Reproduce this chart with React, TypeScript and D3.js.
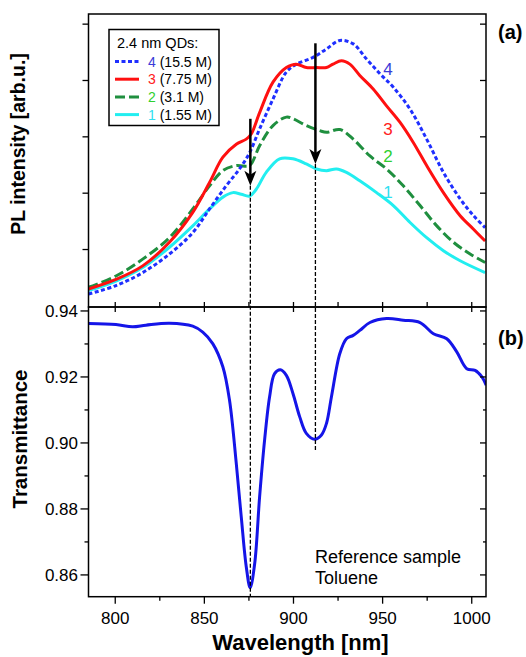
import React from "react";
import * as d3 from "d3";

// ---- data ----
const wl4 = [785.0, 800.4, 815.4, 830.4, 843.5, 852.9, 862.2, 869.7, 875.4, 881, 888.5, 896, 901.6, 911, 918.5, 926, 933.5, 941, 948.5, 956, 965.4, 974.7, 984.1, 993.5, 1001, 1007.5];
const pl4 = [0.21, 0.36, 0.59, 0.92, 1.3, 1.72, 2.13, 2.43, 2.72, 3.14, 3.67, 4.15, 4.29, 4.41, 4.56, 4.71, 4.65, 4.38, 4.12, 3.88, 3.49, 2.96, 2.37, 1.9, 1.6, 1.39];

const wl3 = [785.0, 800.4, 815.4, 830.4, 843.5, 852.9, 860.4, 867.9, 873.5, 876.3, 881, 888.5, 896, 901.6, 907.2, 912.9, 918.5, 922.2, 926.9, 931.6, 937.2, 944.7, 952.2, 959.7, 967.2, 974.7, 984.1, 993.5, 1001, 1007.5];
const pl3 = [0.3, 0.47, 0.71, 1.13, 1.66, 2.19, 2.64, 2.87, 2.96, 3.05, 3.43, 3.97, 4.23, 4.29, 4.23, 4.23, 4.23, 4.29, 4.35, 4.29, 4.09, 3.85, 3.55, 3.26, 2.9, 2.49, 2.01, 1.6, 1.36, 1.15];

const wl2 = [785.0, 800.4, 815.4, 830.4, 843.5, 852.9, 860.4, 867.9, 874.4, 876.3, 881, 888.5, 896, 899.7, 907.2, 914.7, 918.5, 926, 933.5, 942.9, 952.2, 961.6, 971, 980.4, 989.7, 999.1, 1007.5];
const pl2 = [0.33, 0.53, 0.83, 1.21, 1.72, 2.13, 2.4, 2.49, 2.48, 2.52, 2.84, 3.2, 3.35, 3.32, 3.2, 3.11, 3.08, 3.13, 2.96, 2.66, 2.43, 2.13, 1.78, 1.42, 1.13, 0.92, 0.77];

const wl1 = [785.0, 800.4, 815.4, 830.4, 843.5, 852.9, 860.4, 866, 870.7, 875.4, 879.1, 884.7, 892.2, 899.7, 907.2, 912.9, 918.5, 924.1, 929.7, 937.2, 946.6, 956, 965.4, 974.7, 984.1, 993.5, 1007.5];
const pl1 = [0.27, 0.44, 0.68, 1.04, 1.42, 1.72, 1.93, 2.01, 1.98, 1.95, 2.07, 2.37, 2.61, 2.61, 2.52, 2.43, 2.4, 2.43, 2.37, 2.22, 2.01, 1.78, 1.48, 1.21, 0.98, 0.8, 0.59];

const wlT = [785, 800.4, 809.7, 817.2, 830.4, 843.5, 849.1, 854.7, 860.4, 864.1, 867.9, 870.7, 873.5, 875.7, 878.2, 881, 883.8, 886.6, 889.4, 892.6, 896, 899.7, 903.5, 907.2, 911.9, 915.7, 918.5, 921.3, 926, 929.7, 933.5, 937.2, 942.9, 952.2, 961.6, 971, 978.5, 986, 991.6, 997.2, 1001.9, 1005.7, 1008.1];
const trans = [0.9362, 0.9359, 0.9352, 0.9357, 0.9363, 0.9354, 0.9336, 0.9301, 0.923, 0.913, 0.8938, 0.8776, 0.8625, 0.8561, 0.8633, 0.8837, 0.9009, 0.914, 0.921, 0.9222, 0.9205, 0.915, 0.9079, 0.9029, 0.9011, 0.9024, 0.9059, 0.914, 0.9271, 0.9316, 0.9326, 0.9341, 0.9365, 0.9377, 0.9372, 0.9365, 0.9331, 0.9316, 0.9276, 0.9225, 0.922, 0.92, 0.9175];

const seriesIds = ["4", "3", "2", "1"];
const seriesConc = ["(15.5 M)", "(7.75 M)", "(3.1 M)", "(1.55 M)"];
const labelPL = [4.2, 3.14, 2.66, 2.02];
const labelWl = 953;

const xTicks = [800, 850, 900, 950, 1000];
const xMinor = [825, 875, 925, 975];
const plTicks = [1, 2, 3, 4, 5];
const tTicks = [0.86, 0.88, 0.9, 0.92, 0.94];
const tMinor = [0.87, 0.89, 0.91, 0.93];

// markers: arrows [wavelength, pl top, pl tip], dashed line bottom transmittance
const arrowWl = [875.8, 912.3];
const arrowTop = [3.32, 4.66];
const arrowTip = [2.13, 2.52];
const dropT = [0.8534, 0.8973];

export default function App() {
  const W = 526, H = 657;
  const L = 88.5, R = 486, T1 = 14, M = 307, B = 596.7;
  const font = "'Liberation Sans', Arial, sans-serif";

  const x = d3.scaleLinear().domain([785, 1008]).range([L, R]);
  const yP = d3.scaleLinear().domain([-0.02, 5.18]).range([M, T1]);
  const yT = d3.scaleLinear().domain([0.8534, 0.9412]).range([B, M]);

  const mk = (ws: number[], vs: number[], ys: any) =>
    d3.line<number>().x((_, i) => x(ws[i])).y((v) => ys(v)).curve(d3.curveCatmullRom.alpha(0.5))(vs) || "";

  const series = [
    { w: wl4, v: pl4, color: "#1f2fff", dash: "4,2.5", text: "#3a3ad8" },
    { w: wl3, v: pl3, color: "#ff1010", dash: "", text: "#ff2020" },
    { w: wl2, v: pl2, color: "#1f8f3f", dash: "10,4", text: "#2fd02f" },
    { w: wl1, v: pl1, color: "#22eef0", dash: "", text: "#30e0f0" },
  ];

  const drawOrder = [3, 2, 0, 1];

  return (
    <svg width={W} height={H} style={{ position: "absolute", left: 0, top: 0 }} fontFamily={font}>
      <defs>
        <clipPath id="cp1"><rect x={L} y={T1} width={R - L} height={M - T1} /></clipPath>
        <clipPath id="cp2"><rect x={L} y={M} width={R - L} height={B - M} /></clipPath>
      </defs>

      {/* PL curves */}
      <g clipPath="url(#cp1)">
        {drawOrder.map((i) => (
          <path key={i} d={mk(series[i].w, series[i].v, yP)} fill="none" stroke={series[i].color}
            strokeWidth={3} strokeDasharray={series[i].dash || undefined} />
        ))}
      </g>
      {/* transmittance */}
      <g clipPath="url(#cp2)">
        <path d={mk(wlT, trans, yT)} fill="none" stroke="#1515e8" strokeWidth={3} />
      </g>

      {/* dashed drop lines & arrows */}
      {arrowWl.map((w, i) => (
        <g key={i}>
          <line x1={x(w)} x2={x(w)} y1={yP(arrowTip[i])} y2={yT(dropT[i])} stroke="#000" strokeWidth={1.3} strokeDasharray="4,2" />
          <line x1={x(w)} x2={x(w)} y1={yP(arrowTop[i])} y2={yP(arrowTip[i]) - 10} stroke="#000" strokeWidth={2.5} />
          <path d={`M${x(w)},${yP(arrowTip[i])} L${x(w) - 6},${yP(arrowTip[i]) - 15} L${x(w)},${yP(arrowTip[i]) - 11} L${x(w) + 6},${yP(arrowTip[i]) - 15} Z`} fill="#000" />
        </g>
      ))}

      {/* frames */}
      <rect x={L} y={T1} width={R - L} height={M - T1} fill="none" stroke="#000" strokeWidth={1.5} />
      <rect x={L} y={M} width={R - L} height={B - M} fill="none" stroke="#000" strokeWidth={1.5} />

      {/* x ticks */}
      {xTicks.map((t) => (
        <g key={"x" + t}>
          <line x1={x(t)} x2={x(t)} y1={B} y2={B + 7} stroke="#000" strokeWidth={1.3} />
          <line x1={x(t)} x2={x(t)} y1={M - 5} y2={M + 5} stroke="#000" strokeWidth={1.3} />
          <text x={x(t)} y={624} fontSize={17} textAnchor="middle">{t}</text>
        </g>
      ))}
      {xMinor.map((t) => (
        <g key={"xm" + t}>
          <line x1={x(t)} x2={x(t)} y1={B} y2={B + 4} stroke="#000" strokeWidth={1.3} />
          <line x1={x(t)} x2={x(t)} y1={M - 5} y2={M} stroke="#000" strokeWidth={1.3} />
        </g>
      ))}

      {/* PL ticks */}
      {plTicks.map((t) => (
        <g key={"p" + t}>
          <line x1={L - 6} x2={L} y1={yP(t)} y2={yP(t)} stroke="#000" strokeWidth={1.3} />
          <line x1={R - 6} x2={R} y1={yP(t)} y2={yP(t)} stroke="#000" strokeWidth={1.3} />
        </g>
      ))}

      {/* T ticks */}
      {tTicks.map((t) => (
        <g key={"t" + t}>
          <line x1={L - 8} x2={L} y1={yT(t)} y2={yT(t)} stroke="#000" strokeWidth={1.3} />
          <line x1={R - 6} x2={R} y1={yT(t)} y2={yT(t)} stroke="#000" strokeWidth={1.3} />
          <text x={78} y={yT(t) + 6} fontSize={17} textAnchor="end">{t.toFixed(2)}</text>
        </g>
      ))}
      {tMinor.map((t) => (
        <g key={"tm" + t}>
          <line x1={L - 4} x2={L} y1={yT(t)} y2={yT(t)} stroke="#000" strokeWidth={1.3} />
          <line x1={R - 3} x2={R} y1={yT(t)} y2={yT(t)} stroke="#000" strokeWidth={1.3} />
        </g>
      ))}

      {/* curve labels */}
      {seriesIds.map((s, i) => (
        <text key={"cl" + s} x={x(labelWl)} y={yP(labelPL[i]) + 6} fontSize={17} textAnchor="middle" fill={series[i].text}>{s}</text>
      ))}

      {/* legend */}
      <rect x={109} y={29.5} width={110} height={96} fill="#fff" stroke="#000" strokeWidth={1.5} />
      <text x={117} y={47.5} fontSize={14.5}>2.4 nm QDs:</text>
      {seriesIds.map((s, i) => {
        const cy = 61.5 + i * 17.7;
        return (
          <g key={"lg" + s}>
            <line x1={115} x2={139} y1={cy} y2={cy} stroke={series[i].color} strokeWidth={3} strokeDasharray={series[i].dash || undefined} />
            <text x={148} y={cy + 5} fontSize={14}>
              <tspan fill={series[i].text}>{s}</tspan>
              <tspan fill="#000">{" " + seriesConc[i]}</tspan>
            </text>
          </g>
        );
      })}

      {/* annotation */}
      <text x={315} y={563} fontSize={18}>Reference sample</text>
      <text x={315} y={583.5} fontSize={18}>Toluene</text>

      {/* panel labels */}
      <text x={498} y={39} fontSize={20} fontWeight="bold">(a)</text>
      <text x={498} y={345} fontSize={20} fontWeight="bold">(b)</text>

      {/* axis titles */}
      <text transform={`translate(25,144) rotate(-90)`} fontSize={19.5} fontWeight="bold" textAnchor="middle">PL intensity [arb.u.]</text>
      <text transform={`translate(27,439) rotate(-90)`} fontSize={20.5} fontWeight="bold" textAnchor="middle">Transmittance</text>
      <text x={300.5} y={650} fontSize={22} fontWeight="bold" textAnchor="middle">Wavelength [nm]</text>
    </svg>
  );
}
